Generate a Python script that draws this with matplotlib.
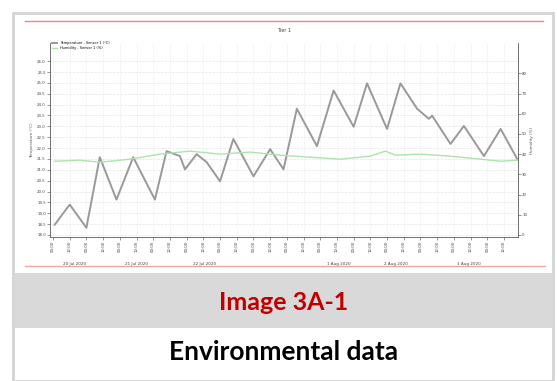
import matplotlib.pyplot as plt
from matplotlib.patches import Rectangle
from matplotlib.lines import Line2D

# temperature series (left axis), x in tick steps
temp_x = [0.1, 1.0, 2.0, 2.8, 3.8, 4.8, 6.1, 6.8, 7.6, 7.9, 8.6, 9.2, 10.0, 10.8,
          12.0, 13.0, 13.8, 14.6, 15.8, 16.8, 18.0, 18.8, 20.0, 20.8, 21.8, 22.5,
          22.7, 23.8, 24.6, 25.8, 26.8, 27.8]
temp_y = [18.47, 19.40, 18.33, 21.58, 19.63, 21.58, 19.63, 21.86, 21.63, 21.02,
          21.72, 21.35, 20.47, 22.42, 20.70, 21.95, 21.02, 23.81, 22.09, 24.65,
          22.98, 24.98, 22.88, 24.98, 23.81, 23.35, 23.49, 22.19, 23.02, 21.63,
          22.88, 21.49]

# humidity series (right axis)
hum_x = [0.1, 1.6, 2.8, 4.6, 6.4, 8.2, 10.0, 11.8, 13.6, 15.4, 17.2, 19.0, 19.9,
         20.5, 22.0, 23.8, 25.6, 26.8, 27.8]
hum_y = [36.5, 37, 36, 37.5, 40, 41.5, 40, 41, 39.5, 38.5, 37.5, 39, 41.5, 39.5,
         40, 39, 37.5, 36.5, 37]

hour_labels = ['00:00', '12:00'] * 14
date_pos = [1.3, 5.0, 9.1, 17.1, 20.5, 24.9]
date_labels = ['20 Jul 2020', '21 Jul 2020', '22 Jul 2020',
               '1 Aug 2020', '2 Aug 2020', '3 Aug 2020']

W, H = 557, 381
fig = plt.figure(figsize=(W / 100, H / 100), dpi=100)


def fx(x):
    return x / W


def fy(y):
    return 1 - y / H


# card frame, red rules, caption band
fig.add_artist(Rectangle((fx(13), fy(381)), fx(553) - fx(13), fy(13) - fy(381),
                         transform=fig.transFigure, fill=False,
                         edgecolor='#d4d4d4', linewidth=2))
fig.add_artist(Line2D([fx(25), fx(543)], [fy(21), fy(21)], transform=fig.transFigure,
                      color='#ef8585', linewidth=1))
fig.add_artist(Line2D([fx(25), fx(545)], [fy(266), fy(266)], transform=fig.transFigure,
                      color='#f4a5a5', linewidth=1))
fig.add_artist(Rectangle((fx(14), fy(328)), fx(552) - fx(14), fy(273) - fy(328),
                         transform=fig.transFigure, facecolor='#d9d9d9',
                         edgecolor='none'))
fig.text(fx(284), fy(302), 'Image 3A-1', color='#c00000', fontsize=18,
         fontweight='bold', family='Lato', ha='center', va='center')
fig.text(fx(284), fy(352), 'Environmental data', color='black', fontsize=19,
         fontweight='bold', family='Lato', ha='center', va='center')

ax = fig.add_axes([fx(50), fy(237), fx(518) - fx(50), fy(43) - fy(237)])
ax2 = ax.twinx()

ax.plot(temp_x, temp_y, color='#999999', linewidth=1.4, solid_joinstyle='round',
        label='Temperature - Sensor 1 (°C)')
ax2.plot(hum_x, hum_y, color='#ade3ad', linewidth=1.0, solid_joinstyle='round',
         label='Humidity - Sensor 1 (%)')

ax.set_xlim(-0.18, 27.84)
ax.set_ylim(17.907, 26.837)
ax2.set_ylim(-1, 95)
ax.set_yticks([18 + 0.5 * k for k in range(17)])
ax2.set_yticks(range(0, 90, 10))
ax.set_xticks(range(28))
ax.set_xticklabels(hour_labels, rotation=90)

for a in (ax, ax2):
    a.tick_params(labelsize=2.8, colors='#444444', length=2, width=0.4, pad=1)
    a.spines['top'].set_visible(False)
    for s in a.spines.values():
        s.set_color('#666666')
        s.set_linewidth(0.5)
ax.yaxis.grid(True, color='#e4e4e4', linestyle='--', linewidth=0.5)
ax.xaxis.grid(True, color='#f0f0f0', linewidth=0.4)
ax.set_axisbelow(True)

ax.set_title('Tier 1', fontsize=3.5, color='#444444', pad=8)
ax.set_ylabel('Temperature (°C)', fontsize=3, color='#555555', labelpad=2)
ax2.set_ylabel('Humidity (%)', fontsize=3, color='#555555', labelpad=2)

for p, lab in zip(date_pos, date_labels):
    ax.text(p, -0.13, lab, transform=ax.get_xaxis_transform(), fontsize=3,
            color='#444444', ha='center', va='top')

h1, l1 = ax.get_legend_handles_labels()
h2, l2 = ax2.get_legend_handles_labels()
ax.legend(h1 + h2, l1 + l2, loc='upper left', bbox_to_anchor=(0.0, 1.02),
          fontsize=2.5, frameon=False, handlelength=1.5, labelspacing=0.2,
          borderaxespad=0.2)

fig.savefig('out.png', dpi=100)
